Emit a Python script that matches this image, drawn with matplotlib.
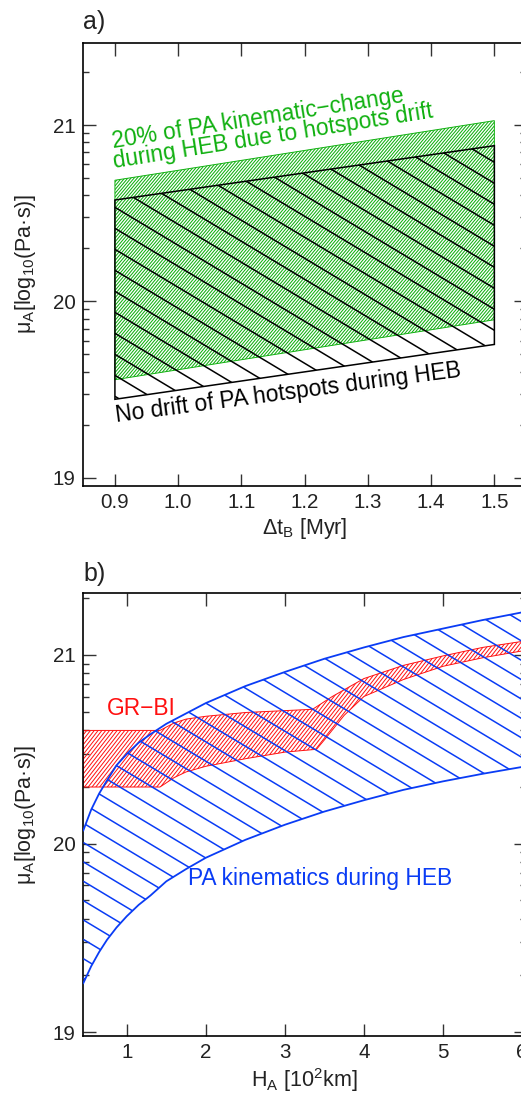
import numpy as np
import matplotlib
matplotlib.use('Agg')
import matplotlib.pyplot as plt
from matplotlib.patches import Polygon
from matplotlib.collections import LineCollection
from matplotlib.ticker import FixedLocator

plt.rcParams['font.family'] = ['Liberation Sans', 'DejaVu Sans']
plt.rcParams['mathtext.fontset'] = 'custom'
plt.rcParams['mathtext.rm'] = 'Liberation Sans'
plt.rcParams['mathtext.it'] = 'Liberation Sans:italic'

# ---- panel a data: viscosity band vs. duration of the HEB ----
dt_b = [0.9, 1.5]
noddrift_top = [20.575, 20.883]
noddrift_bot = [19.445, 19.756]
drift20_top = [20.687, 21.025]
drift20_bot = [19.556, 19.896]

# ---- panel b data: viscosity vs. asthenosphere thickness ----
h_pa = [0.45, 0.55, 0.65, 0.75, 0.87, 1.0, 1.15, 1.3, 1.5, 1.75, 2.0, 2.5, 3.0, 3.5,
        4.0, 4.5, 5.0, 5.5, 6.05]
pa_top = [20.07, 20.18, 20.265, 20.335, 20.415, 20.475, 20.535, 20.58, 20.635, 20.69,
          20.745, 20.835, 20.91, 20.98, 21.04, 21.095, 21.14, 21.185, 21.23]
pa_bot = [19.26, 19.35, 19.425, 19.49, 19.555, 19.615, 19.675, 19.725, 19.80, 19.865,
          19.925, 20.02, 20.10, 20.17, 20.23, 20.285, 20.33, 20.37, 20.41]

h_gr_top = [0.45, 1.42, 1.6, 1.75, 2.0, 2.5, 3.0, 3.35, 3.6, 4.0, 4.5, 5.0, 5.5, 6.05]
gr_top = [20.60, 20.60, 20.64, 20.66, 20.675, 20.695, 20.705, 20.712, 20.78, 20.875,
          20.945, 20.995, 21.04, 21.075]
h_gr_bot = [0.45, 1.42, 1.6, 1.75, 2.0, 2.5, 3.0, 3.4, 3.5, 3.75, 4.0, 4.5, 5.0, 5.5, 6.05]
gr_bot = [20.30, 20.30, 20.35, 20.38, 20.41, 20.45, 20.485, 20.50, 20.55, 20.68, 20.78,
          20.87, 20.94, 20.985, 21.025]

GREEN = '#10b010'
BLUE = '#0a3cf5'
RED = '#ff1010'

W, H = 521, 1095
fig = plt.figure(figsize=(W / 100, H / 100), dpi=100)
ax1 = fig.add_axes([83.3 / W, 1 - 485.7 / H, 442.7 / W, 443 / H])
ax2 = fig.add_axes([83.3 / W, 1 - 1036 / H, 442.7 / W, 442.7 / H])
ax1.set_xlim(0.85, 1.55)
ax1.set_ylim(18.955, 21.467)
ax2.set_xlim(0.45, 6.05)
ax2.set_ylim(18.98, 21.327)


def band(xt, yt, xb, yb):
    return np.column_stack([list(xt) + list(xb)[::-1], list(yt) + list(yb)[::-1]])


def hatch(ax, verts, angle, spacing, color, lw, edge=None, elw=1.0, z=2):
    # hand-made hatching so angle and spacing can follow the original
    poly = Polygon(verts, closed=True, facecolor='none', edgecolor='none')
    ax.add_patch(poly)
    pos = ax.get_position()
    x0, x1 = ax.get_xlim()
    y0, y1 = ax.get_ylim()
    sx = pos.width * W / (x1 - x0)
    sy = pos.height * H / (y1 - y0)
    a = np.radians(angle)
    k = np.tan(a) * sx / sy
    step = spacing / np.cos(a) / sy
    xmin, xmax = verts[:, 0].min(), verts[:, 0].max()
    ymin, ymax = verts[:, 1].min(), verts[:, 1].max()
    span = abs(k) * (xmax - xmin)
    cs = np.arange(ymin - span - step, ymax + span + step, step)
    segs = [[(xmin, c), (xmax, c + k * (xmax - xmin))] for c in cs]
    lc = LineCollection(segs, colors=color, linewidths=lw, zorder=z)
    ax.add_collection(lc)
    lc.set_clip_path(poly)
    if edge is not None:
        ax.add_patch(Polygon(verts, closed=True, facecolor='none', edgecolor=edge,
                             linewidth=elw, zorder=z + 0.1))


# panel a
green = band(dt_b, drift20_top, dt_b, drift20_bot)
black = band(dt_b, noddrift_top, dt_b, noddrift_bot)
hatch(ax1, green, 50, 2.4, GREEN, 0.75, edge=GREEN, elw=0.7, z=2)
hatch(ax1, black, -31, 18.0, 'black', 1.1, edge='black', elw=1.1, z=3)

ax1.text(0.8968, 20.868, '20% of PA kinematic\u2212change', color=GREEN, fontsize=16.4,
         rotation=9, rotation_mode='anchor', ha='left', va='baseline')
ax1.text(0.8995, 20.754, 'during HEB due to hotspots drift', color=GREEN, fontsize=16.4,
         rotation=9, rotation_mode='anchor', ha='left', va='baseline')
ax1.text(0.902, 19.315, 'No drift of PA hotspots during HEB', color='black', fontsize=16.4,
         rotation=7.5, rotation_mode='anchor', ha='left', va='baseline')

# panel b
red = band(h_gr_top, gr_top, h_gr_bot, gr_bot)
blue = band(h_pa, pa_top, h_pa, pa_bot)
hatch(ax2, red, 52, 3.0, RED, 0.7, edge=RED, elw=0.7, z=2)
hatch(ax2, blue, -31, 16.6, BLUE, 1.1, z=3)
ax2.plot(h_pa, pa_top, color=BLUE, lw=1.3, zorder=4)
ax2.plot(h_pa, pa_bot, color=BLUE, lw=1.3, zorder=4)

ax2.text(0.747, 20.682, 'GR\u2212BI', color=RED, fontsize=16.4, ha='left', va='baseline')
ax2.text(1.78, 19.779, 'PA kinematics during HEB', color=BLUE, fontsize=16.4,
         ha='left', va='baseline')

# axes styling
minors = [n + np.log10(m) for n in (18, 19, 20, 21) for m in range(2, 10)]
for ax in (ax1, ax2):
    ax.set_yticks([19, 20, 21])
    ax.yaxis.set_minor_locator(FixedLocator(minors))
    ax.tick_params(which='both', direction='in', top=True, right=True, width=1.0,
                   color='#333333', labelsize=14.8, labelcolor='#222222')
    ax.tick_params(which='major', length=9)
    ax.tick_params(which='minor', length=4.5)
    ax.tick_params(axis='x', pad=5)
    ax.tick_params(axis='y', pad=5.5)
    for s in ax.spines.values():
        s.set_linewidth(1.2)

ax1.set_xticks([0.9, 1.0, 1.1, 1.2, 1.3, 1.4, 1.5])
ax1.set_xticklabels(['0.9', '1.0', '1.1', '1.2', '1.3', '1.4', '1.5'])
ax2.set_xticks([1, 2, 3, 4, 5, 6])

ax1.set_xlabel('\u0394t$_{\\rm B}$ [Myr]', fontsize=15.5, color='#222222', labelpad=3)
ax1.set_ylabel('\u03bc$_{\\rm A}$[log$_{10}$(Pa\u00b7s)]', fontsize=15.5, color='#222222',
               labelpad=11)
ax2.set_xlabel('H$_{\\rm A}$ [10$^{2}$km]', fontsize=15.5, color='#222222', labelpad=3)
ax2.set_ylabel('\u03bc$_{\\rm A}$[log$_{10}$(Pa\u00b7s)]', fontsize=15.5, color='#222222',
               labelpad=11)

fig.text(83 / W, 1 - 29 / H, 'a)', fontsize=18, color='#222222', va='baseline')
fig.text(83 / W, 1 - 580.7 / H, 'b)', fontsize=18, color='#222222', va='baseline')

fig.savefig('out.png', dpi=100)
